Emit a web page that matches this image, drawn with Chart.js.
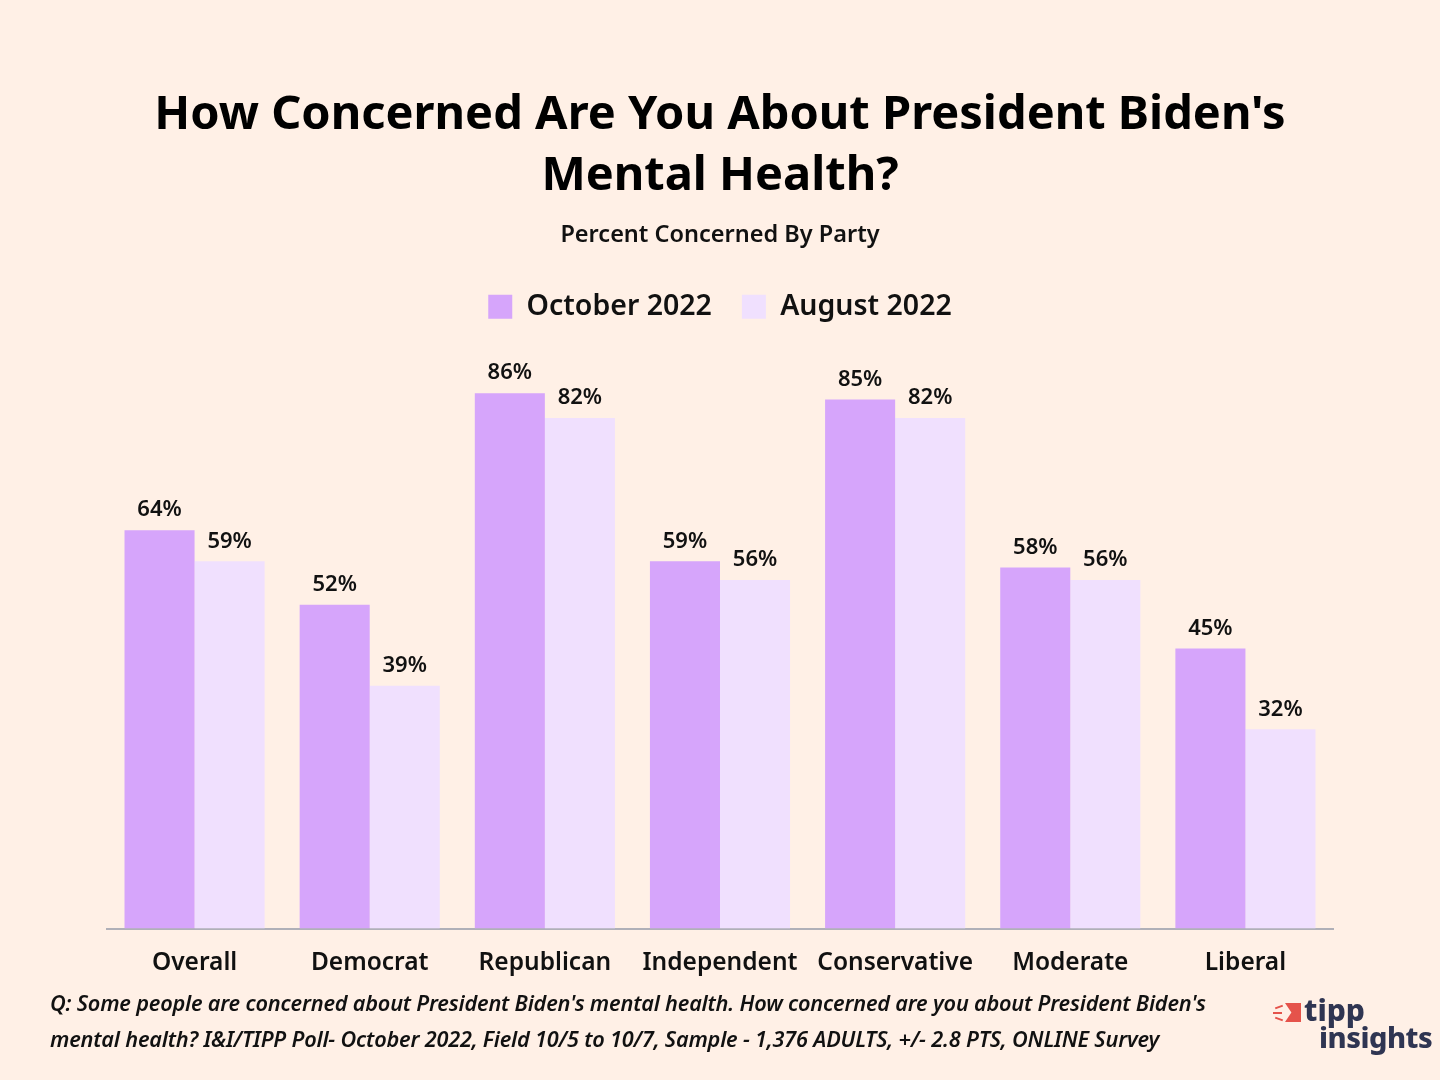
<!DOCTYPE html>
<html>
<head>
<meta charset="utf-8">
<script src="https://cdn.jsdelivr.net/npm/chart.js@4"></script>
<style>
  html, body { margin: 0; padding: 0; background: #FFF0E6; }
  #wrap { position: relative; width: 1440px; height: 1080px; }
  #note { position: absolute; left: 50px; top: 985px; font-family: "Noto Sans", sans-serif;
          font-style: italic; font-weight: 600; font-size: 21.7px; line-height: 36px; color: #111; letter-spacing: -0.2px; }
  #logo { position: absolute; left: 1272px; top: 996px; font-family: "Noto Sans", sans-serif;
          font-weight: 800; color: #2F3552; line-height: 27px; }
  #logo .t1 { font-size: 30px; padding-left: 32px; display: block; }
  #logo .t2 { font-size: 29px; padding-left: 47px; display: block; letter-spacing: -0.5px; }
  #logo .flag { position: absolute; left: 13px; top: 7px; width: 16px; height: 19px; background: #E5534B;
                clip-path: polygon(0 0, 100% 0, 100% 100%, 0 100%, 40% 50%); }
  #logo .ray { position: absolute; height: 2px; background: #E5534B; }
</style>
</head>
<body>
<div id="wrap">
  <canvas id="myChart" width="1440" height="1080"></canvas>
  <div id="note">Q: Some people are concerned about President Biden's mental health. How concerned are you about President Biden's<br>mental health? I&amp;I/TIPP Poll- October 2022, Field 10/5 to 10/7, Sample - 1,376 ADULTS, +/- 2.8 PTS, ONLINE Survey</div>
  <div id="logo">
    <span class="ray" style="left:3px;top:10px;width:8px;transform:rotate(-20deg)"></span>
    <span class="ray" style="left:1px;top:16px;width:9px"></span>
    <span class="ray" style="left:3px;top:22px;width:8px;transform:rotate(20deg)"></span>
    <span class="flag"></span><span class="t1">tipp</span><span class="t2">insights</span>
  </div>
</div>
<script>
const categories = ['Overall', 'Democrat', 'Republican', 'Independent', 'Conservative', 'Moderate', 'Liberal'];
const october = [64, 52, 86, 59, 85, 58, 45];
const august = [59, 39, 82, 56, 82, 56, 32];

const font = '"Noto Sans", sans-serif';

const valueLabels = {
	id: 'valueLabels',
	afterDatasetsDraw(chart) {
		const c = chart.ctx;
		c.save();
		c.font = '600 22px ' + font;
		c.fillStyle = '#111';
		c.textAlign = 'center';
		c.textBaseline = 'bottom';
		chart.data.datasets.forEach((ds, i) => {
			chart.getDatasetMeta(i).data.forEach((bar, j) => {
				c.fillText(ds.data[j] + '%', bar.x, bar.y - 9);
			});
		});
		c.restore();
	}
};

const ctx = document.getElementById('myChart').getContext('2d');
let myChart = new Chart(ctx, {
	type: 'bar',
	data: {
		labels: categories,
		datasets: [
			{ label: 'October 2022', data: october, backgroundColor: '#D6A5FB' },
			{ label: 'August 2022', data: august, backgroundColor: '#F0E0FE' }
		]
	},
	options: {
		responsive: false,
		devicePixelRatio: 1,
		animation: false,
		categoryPercentage: 0.8,
		barPercentage: 1.0,
		layout: { padding: { left: 107, right: 107, bottom: 90, top: 0 } },
		plugins: {
			title: {
				display: true,
				text: ["How Concerned Are You About President Biden's", 'Mental Health?'],
				color: '#000',
				font: { family: font, size: 47, weight: 'bold', lineHeight: 1.3 },
				padding: { top: 85, bottom: 14 }
			},
			subtitle: {
				display: true,
				text: 'Percent Concerned By Party',
				color: '#111',
				font: { family: font, size: 23.5, weight: '600' },
				padding: { top: 0, bottom: 13 }
			},
			legend: {
				labels: {
					color: '#111',
					font: { family: font, size: 28.5, weight: '600' },
					boxWidth: 24,
					boxHeight: 24,
					padding: 30
				}
			},
			tooltip: { enabled: false }
		},
		scales: {
			x: {
				grid: { display: false },
				border: { color: '#B0B0B8', width: 2 },
				ticks: { color: '#111', font: { family: font, size: 24.5, weight: '600' }, padding: 12 }
			},
			y: {
				display: false,
				min: 0,
				max: 96
			}
		}
	},
	plugins: [valueLabels]
});
</script>
</body>
</html>
